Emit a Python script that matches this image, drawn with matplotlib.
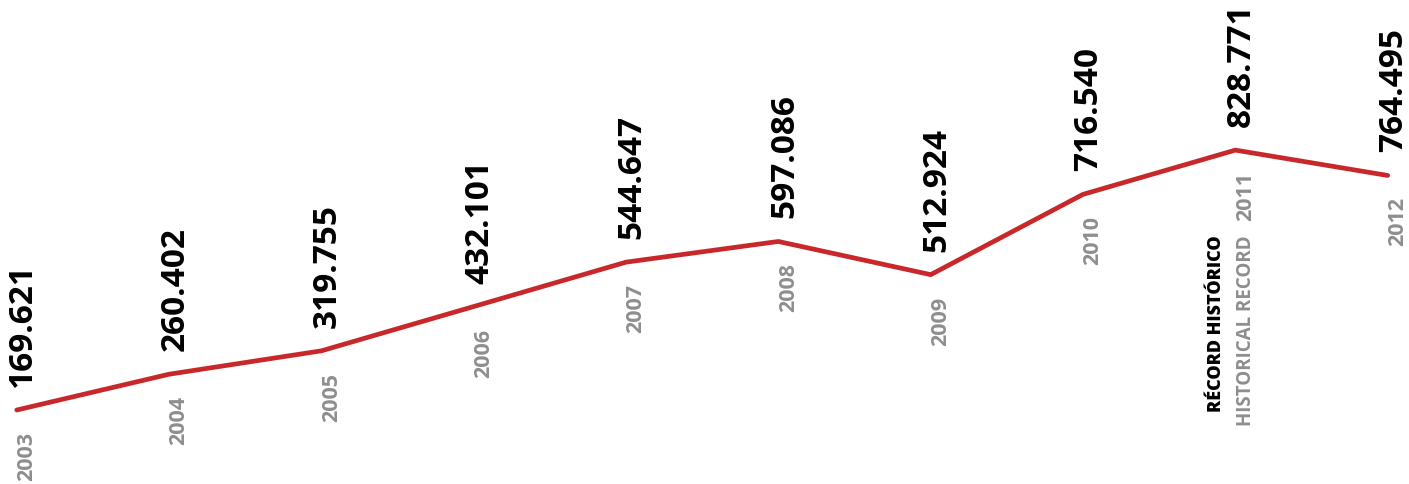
import matplotlib
matplotlib.use("Agg")
import matplotlib.pyplot as plt

plt.rcParams['font.family'] = ['Open Sans', 'DejaVu Sans']

# Data
years = [2003, 2004, 2005, 2006, 2007, 2008, 2009, 2010, 2011, 2012]
values = [169.621, 260.402, 319.755, 432.101, 544.647, 597.086, 512.924, 716.540, 828.771, 764.495]
value_labels = ["169.621", "260.402", "319.755", "432.101", "544.647",
                "597.086", "512.924", "716.540", "828.771", "764.495"]
record_year = 2011
record_es = "RÉCORD HISTÓRICO"
record_en = "HISTORICAL RECORD"

red = "#c8282a"
gray = "#8e8e8e"

fig = plt.figure(figsize=(14.09, 4.85), dpi=100)
ax = fig.add_axes([0, 0, 1, 1])
ax.plot(years, values, color=red, linewidth=3.4, solid_capstyle='round', solid_joinstyle='miter')

for yr, v, lab in zip(years, values, value_labels):
    ax.annotate(lab, (yr, v), xytext=(6, 24), textcoords='offset pixels',
                rotation=90, ha='center', va='bottom', fontsize=24,
                fontweight='bold', color='black')
    ax.annotate(str(yr), (yr, v), xytext=(10, -21), textcoords='offset pixels',
                rotation=90, ha='center', va='top', fontsize=15.5,
                fontweight='bold', color=gray)

rv = values[years.index(record_year)]
ax.annotate(record_es, (record_year, rv), xytext=(-19, -84), textcoords='offset pixels',
            rotation=90, ha='center', va='top', fontsize=13,
            fontweight=800, color='black')
ax.annotate(record_en, (record_year, rv), xytext=(11, -84), textcoords='offset pixels',
            rotation=90, ha='center', va='top', fontsize=13.5,
            fontweight='bold', color=gray)

ax.set_xlim(2002.89, 2012.14)
ax.set_ylim(-18, 1212)
ax.axis('off')

fig.savefig("out.png", dpi=100)
